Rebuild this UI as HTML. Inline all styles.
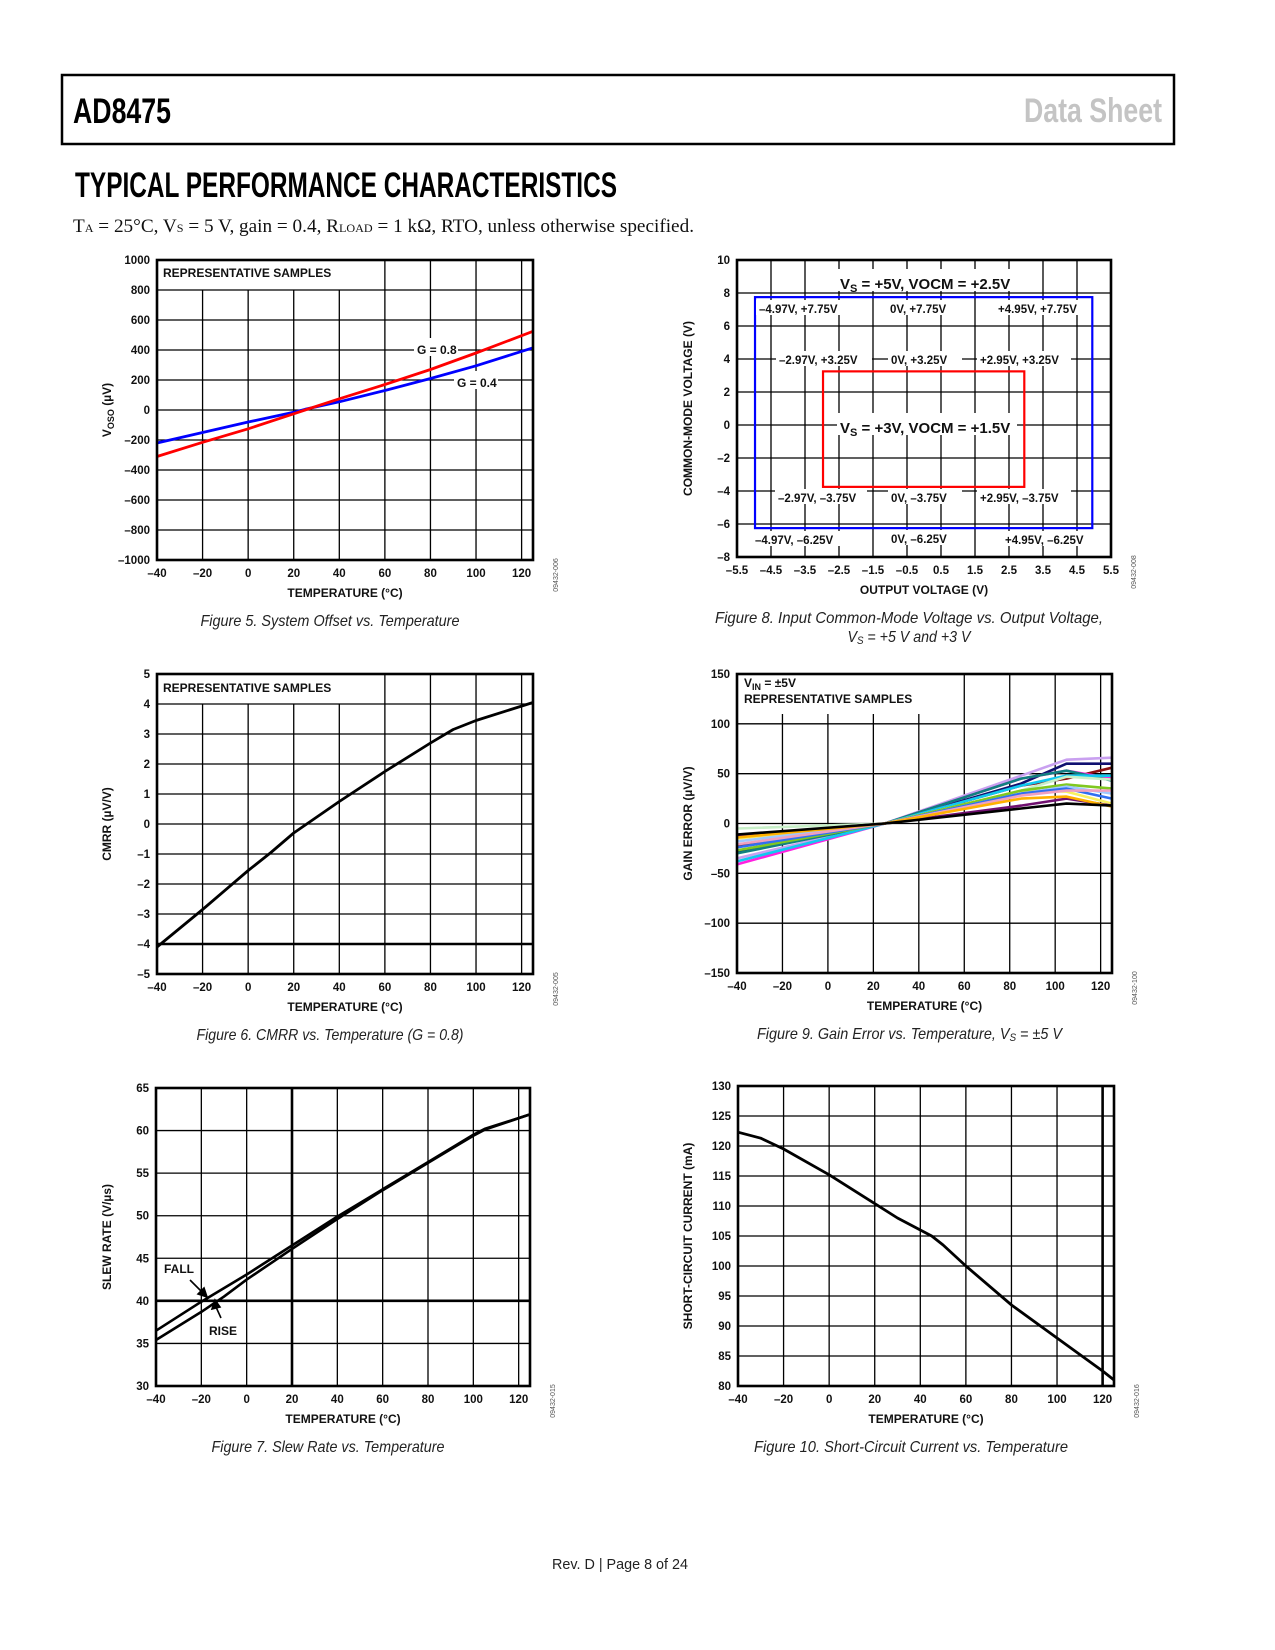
<!DOCTYPE html>
<html><head><meta charset="utf-8"><style>
html,body{margin:0;padding:0;background:#fff}
svg{display:block}
.tk{font-family:"Liberation Sans",Arial,sans-serif;font-size:11.5px;font-weight:bold;fill:#111}
.ax{font-family:"Liberation Sans",Arial,sans-serif;font-size:12px;font-weight:bold;fill:#111}
.cap{font-family:"Liberation Sans Narrow","Liberation Sans",sans-serif;font-style:italic;font-size:16px;fill:#222}
.code{font-family:"Liberation Sans",Arial,sans-serif;font-size:7px;fill:#555}
</style></head><body>
<svg id="page" width="1275" height="1650" viewBox="0 0 1275 1650" xmlns="http://www.w3.org/2000/svg">
<rect x="62" y="75" width="1112" height="69" fill="none" stroke="#000" stroke-width="2.5"/>
<text x="73" y="123" style="font-family:'Liberation Sans Narrow','Liberation Sans',sans-serif;font-weight:bold;font-size:35px" textLength="98" lengthAdjust="spacingAndGlyphs">AD8475</text>
<text x="1162" y="122" text-anchor="end" style="font-family:'Liberation Sans Narrow','Liberation Sans',sans-serif;font-weight:bold;font-size:34px;fill:#c4c4c4" textLength="138" lengthAdjust="spacingAndGlyphs">Data Sheet</text>
<text x="75" y="197" style="font-family:'Liberation Sans Narrow','Liberation Sans',sans-serif;font-weight:bold;font-size:35px" textLength="542" lengthAdjust="spacingAndGlyphs">TYPICAL PERFORMANCE CHARACTERISTICS</text>
<text x="73" y="232" style="font-family:'Liberation Serif',serif;font-size:19px;fill:#111" textLength="621" lengthAdjust="spacingAndGlyphs">T<tspan style="font-size:12px">A</tspan> = 25°C, V<tspan style="font-size:12px">S</tspan> = 5 V, gain = 0.4, R<tspan style="font-size:12px">LOAD</tspan> = 1 kΩ, RTO, unless otherwise specified.</text>
<text x="620" y="1569" text-anchor="middle" style="font-family:'Liberation Sans',sans-serif;font-size:15px;fill:#222" textLength="136" lengthAdjust="spacingAndGlyphs">Rev. D | Page 8 of 24</text>
<g id="charts"></g>
</svg>
<script>
// ---- Figure 5 data
const f5Temps = [-40,-20,0,20,25,40,60,80,100,125];
const f5G08 = [-310,-215,-125,-25,0,75,170,270,380,525];
const f5G04 = [-220,-150,-80,-15,5,55,130,210,295,415];
const f5YTicks = [-1000,-800,-600,-400,-200,0,200,400,600,800,1000];
const tempTicks = [-40,-20,0,20,40,60,80,100,120];
// ---- Figure 6 data
const f6Temps = [-40,-20,0,10,20,40,60,80,90,100,125];
const f6Cmrr = [-4.1,-2.85,-1.55,-0.95,-0.3,0.75,1.75,2.7,3.15,3.45,4.05];
const f6YTicks = [-5,-4,-3,-2,-1,0,1,2,3,4,5];
// ---- Figure 7 data
const f7Temps = [-40,-20,-10,0,20,40,60,80,100,105,125];
const f7Fall = [36.5,39.9,41.5,43.1,46.5,49.9,53.1,56.3,59.5,60.2,61.9];
const f7Rise = [35.4,38.7,40.5,42.5,46.1,49.6,53.0,56.2,59.4,60.1,61.9];
const f7YTicks = [30,35,40,45,50,55,60,65];
// ---- Figure 8 data
const f8XTicks = [-5.5,-4.5,-3.5,-2.5,-1.5,-0.5,0.5,1.5,2.5,3.5,4.5,5.5];
const f8YTicks = [-8,-6,-4,-2,0,2,4,6,8,10];
const f8Blue = [-4.97,7.75,4.95,-6.25];
const f8Red = [-2.97,3.25,2.95,-3.75];
// ---- Figure 9 data
const f9Temps = [-40,25,85,105,125];
const f9Colors = ['#c9a0f0','#101070','#8b1010','#ff20e0','#108080','#10c8f0','#c8f0c8','#f8f060','#80c820','#a0c8ff','#3070f0','#f0a0c0','#701070','#ffb000','#000000'];
const f9S1 = [-35,0,48,64,66];
const f9S2 = [-28,0,40,60,60];
const f9S3 = [-22,0,38,45,56];
const f9S4 = [-41,0,45,53,45];
const f9S5 = [-30,0,45,53,43];
const f9S6 = [-38,0,38,48,48];
const f9S7 = [-5,0,33,47,44];
const f9S8 = [-15,0,33,32,20];
const f9S9 = [-27,0,33,39,35];
const f9S10 = [-18,0,30,37,30];
const f9S11 = [-24,0,30,35,25];
const f9S12 = [-21,0,28,33,33];
const f9S13 = [-12,0,18,25,18];
const f9S14 = [-14,0,25,27,17];
const f9S15 = [-11,0,15,20,18];
const f9Series = [f9S1,f9S2,f9S3,f9S4,f9S5,f9S6,f9S7,f9S8,f9S9,f9S10,f9S11,f9S12,f9S13,f9S14,f9S15];
const f9YTicks = [-150,-100,-50,0,50,100,150];
// ---- Figure 10 data
const f10Temps = [-40,-30,-20,0,20,30,45,50,60,80,100,120,125];
const f10Isc = [122.3,121.3,119.5,115.2,110.4,108,105,103.5,100,93.5,88,82.5,81];
const f10YTicks = [80,85,90,95,100,105,110,115,120,125,130];

const NS='http://www.w3.org/2000/svg';
const root=document.getElementById('charts');
function mk(tag,attrs,parent,txt){const e=document.createElementNS(NS,tag);for(const k in attrs)e.setAttribute(k,attrs[k]);if(txt!==undefined)e.textContent=txt;(parent||root).appendChild(e);return e;}
function scale(d0,d1,r0,r1){return v=>r0+(v-d0)/(d1-d0)*(r1-r0);}
function pathFrom(xs,ys,sx,sy){return xs.map((x,i)=>(i?'L':'M')+sx(x).toFixed(1)+','+sy(ys[i]).toFixed(1)).join(' ');}

function frame(g,box,sx,sy,xt,yt,opt){
  yt.forEach(v=>{const y=sy(v);if(Math.abs(y-box.t)<1||Math.abs(y-box.b)<1)return;
    const l=mk('line',{x1:box.l,x2:box.r,y1:y,y2:y,stroke:'#000','stroke-width':(opt.thickY===v?2.6:1.3)},g);
    });
  xt.forEach(v=>{const x=sx(v);if(Math.abs(x-box.l)<1||Math.abs(x-box.r)<1)return;
    const top=(opt.gridTop&&v<opt.gridTopX)?opt.gridTop:box.t;
    const l=mk('line',{x1:x,x2:x,y1:top,y2:box.b,stroke:'#000','stroke-width':(opt.thickX===v?2.6:1.3)},g);
    });
  yt.forEach(v=>{const t=mk('text',{x:box.l-7,y:sy(v)+4,'text-anchor':'end',class:'tk'},g,String(v).replace('-','\u2013'));
    });
  xt.forEach(v=>{const t=mk('text',{x:sx(v),y:box.b+17,'text-anchor':'middle',class:'tk'},g,String(v).replace('-','\u2013'));
    });
}
function border(g,box){const r=mk('rect',{x:box.l,y:box.t,width:box.r-box.l,height:box.b-box.t,fill:'none',stroke:'#000','stroke-width':2.6},g);
  }
function labels(g,box,xtitle,ytitleNode,cap,capW,code,ytx){
  const xt=mk('text',{x:(box.l+box.r)/2,y:box.b+37,'text-anchor':'middle',class:'ax'},g,xtitle);
  
  const yt=mk('text',{x:0,y:0,'text-anchor':'middle',class:'ax',transform:`translate(${ytx},${(box.t+box.b)/2}) rotate(-90)`},g);
  yt.innerHTML=ytitleNode;
  
  cap.forEach((c,i)=>{const t=mk('text',{x:(box.l+box.r)/2-15,y:box.b+66+i*19,'text-anchor':'middle',class:'cap',textLength:capW[i],lengthAdjust:'spacingAndGlyphs'},g);t.innerHTML=c;
    });
  const cd=mk('text',{x:0,y:0,'text-anchor':'middle',class:'code',transform:`translate(${box.r+25},${box.b+15}) rotate(-90)`},g,code);
  
}
function whiteLabel(g,x,y,w,h,txt,size,name){
  const r=mk('rect',{x:x-3,y:y-h+2,width:w,height:h,fill:'#fff'},g);
  
  const t=mk('text',{x:x,y:y,class:'ax',style:'font-size:'+size+'px'},g);t.innerHTML=txt;
  return t;
}
function line(g,xs,ys,sx,sy,color,w,name){const p=mk('path',{d:pathFrom(xs,ys,sx,sy),fill:'none',stroke:color,'stroke-width':w,'stroke-linejoin':'round'},g);
  return p;}

// ===== Figure 5
(function(){const g=mk('g',{});
 const box={l:157,r:533,t:260,b:560};const sx=scale(-40,125,box.l,box.r),sy=scale(-1000,1000,box.b,box.t);
 frame(g,box,sx,sy,tempTicks,f5YTicks,{gridTop:sy(800),gridTopX:60});
 whiteLabel(g,163,277,180,16,'REPRESENTATIVE SAMPLES',12,'annotation-samples');
 whiteLabel(g,417,354,44,18,'G = 0.8',12,'label-g08');
 whiteLabel(g,457,387,44,18,'G = 0.4',12,'label-g04');
 line(g,f5Temps,f5G04,sx,sy,'#0000ff',2.8,'series-g04');
 line(g,f5Temps,f5G08,sx,sy,'#ff0000',2.8,'series-g08');
 border(g,box);
 labels(g,box,'TEMPERATURE (°C)','V<tspan style="font-size:9px" dy="3">OSO</tspan><tspan dy="-3"> (µV)</tspan>',['Figure 5. System Offset vs. Temperature'],[259],'09432-006',111);
})();
// ===== Figure 6
(function(){const g=mk('g',{});
 const box={l:157,r:533,t:674,b:974};const sx=scale(-40,125,box.l,box.r),sy=scale(-5,5,box.b,box.t);
 frame(g,box,sx,sy,tempTicks,f6YTicks,{gridTop:sy(4),gridTopX:60,thickY:-4});
 whiteLabel(g,163,692,180,16,'REPRESENTATIVE SAMPLES',12,'annotation-samples');
 line(g,f6Temps,f6Cmrr,sx,sy,'#000',2.8,'series-cmrr');
 border(g,box);
 labels(g,box,'TEMPERATURE (°C)','CMRR (µV/V)',['Figure 6. CMRR vs. Temperature (G = 0.8)'],[267],'09432-005',111);
})();
// ===== Figure 7
(function(){const g=mk('g',{});
 const box={l:156,r:530,t:1088,b:1386};const sx=scale(-40,125,box.l,box.r),sy=scale(30,65,box.b,box.t);
 frame(g,box,sx,sy,tempTicks,f7YTicks,{thickX:20,thickY:40});
 line(g,f7Temps,f7Fall,sx,sy,'#000',2.6,'series-fall');
 line(g,f7Temps,f7Rise,sx,sy,'#000',2.6,'series-rise');
 const t1=mk('text',{x:164,y:1273,class:'ax'},g,'FALL');
 const t2=mk('text',{x:209,y:1335,class:'ax'},g,'RISE');
 const a1=mk('path',{d:'M190,1280 L203,1293 M198,1294 L207,1297 L204,1288 Z',stroke:'#000','stroke-width':1.6,fill:'#000'},g);
 const a2=mk('path',{d:'M221,1318 L216,1307 M212,1309 L215,1300 L220,1307 Z',stroke:'#000','stroke-width':1.6,fill:'#000'},g);
 border(g,box);
 labels(g,box,'TEMPERATURE (°C)','SLEW RATE (V/µs)',['Figure 7. Slew Rate vs. Temperature'],[233],'09432-015',111);
})();
// ===== Figure 8
(function(){const g=mk('g',{});
 const box={l:737,r:1111,t:260,b:557};const sx=scale(-5.5,5.5,box.l,box.r),sy=scale(-8,10,box.b,box.t);
 frame(g,box,sx,sy,[],f8YTicks,{});
 f8XTicks.forEach(v=>{const x=sx(v);if(Math.abs(x-box.l)<1||Math.abs(x-box.r)<1)return;const l=mk('line',{x1:x,x2:x,y1:box.t,y2:box.b,stroke:'#000','stroke-width':1.3},g);});
 f8XTicks.forEach(v=>{const t=mk('text',{x:sx(v),y:box.b+17,'text-anchor':'middle',class:'tk'},g,String(v).replace('-','\u2013'));});
 const bl=mk('rect',{x:sx(f8Blue[0]),y:sy(f8Blue[1]),width:sx(f8Blue[2])-sx(f8Blue[0]),height:sy(f8Blue[3])-sy(f8Blue[1]),fill:'none',stroke:'#0000ff','stroke-width':2.2},g);
 const rd=mk('rect',{x:sx(f8Red[0]),y:sy(f8Red[1]),width:sx(f8Red[2])-sx(f8Red[0]),height:sy(f8Red[3])-sy(f8Red[1]),fill:'none',stroke:'#ff0000','stroke-width':2.2},g);
 whiteLabel(g,840,289,180,22,'V<tspan style="font-size:11px" dy="3">S</tspan><tspan dy="-3"> = +5V, VOCM = +2.5V</tspan>',15,'label-vs5');
 whiteLabel(g,840,433,180,22,'V<tspan style="font-size:11px" dy="3">S</tspan><tspan dy="-3"> = +3V, VOCM = +1.5V</tspan>',15,'label-vs3');
 const pts=[[759,313,'\u20134.97V, +7.75V',100],[890,313,'0V, +7.75V',74],[998,313,'+4.95V, +7.75V',92],
  [779,364,'\u20132.97V, +3.25V',96],[891,364,'0V, +3.25V',74],[980,364,'+2.95V, +3.25V',94],
  [778,502,'\u20132.97V, \u20133.75V',92],[891,502,'0V, \u20133.75V',74],[980,502,'+2.95V, \u20133.75V',94],
  [755,544,'\u20134.97V, \u20136.25V',90],[891,543,'0V, \u20136.25V',74],[1005,544,'+4.95V, \u20136.25V',86]];
 pts.forEach(p=>whiteLabel(g,p[0],p[1],p[3],15,p[2],11.5,'corner-label'));
 border(g,box);
 labels(g,box,'OUTPUT VOLTAGE (V)','COMMON-MODE VOLTAGE (V)',['Figure 8. Input Common-Mode Voltage vs. Output Voltage,','V<tspan style="font-size:11px" dy="2">S</tspan><tspan dy="-2"> = +5 V and +3 V</tspan>'],[388,123],'09432-008',692);
})();
// ===== Figure 9
(function(){const g=mk('g',{});
 const box={l:737,r:1112,t:674,b:973};const sx=scale(-40,125,box.l,box.r),sy=scale(-150,150,box.b,box.t);
 frame(g,box,sx,sy,tempTicks,f9YTicks,{gridTop:sy(112),gridTopX:50});
 const r=mk('rect',{x:742,y:678,width:200,height:36,fill:'#fff'},g);
 const t1=mk('text',{x:744,y:687,class:'ax'},g);t1.innerHTML='V<tspan style="font-size:9px" dy="3">IN</tspan><tspan dy="-3"> = ±5V</tspan>';
 const t2=mk('text',{x:744,y:703,class:'ax'},g,'REPRESENTATIVE SAMPLES');
 f9Series.forEach((s,i)=>line(g,f9Temps,s,sx,sy,f9Colors[i],2.6,'gain-error-sample'));
 border(g,box);
 labels(g,box,'TEMPERATURE (°C)','GAIN ERROR (µV/V)',['Figure 9. Gain Error vs. Temperature, V<tspan style="font-size:11px" dy="2">S</tspan><tspan dy="-2"> = ±5 V</tspan>'],[305],'09432-100',692);
})();
// ===== Figure 10
(function(){const g=mk('g',{});
 const box={l:738,r:1114,t:1086,b:1386};const sx=scale(-40,125,box.l,box.r),sy=scale(80,130,box.b,box.t);
 frame(g,box,sx,sy,tempTicks,f10YTicks,{thickX:120});
 line(g,f10Temps,f10Isc,sx,sy,'#000',2.8,'series-isc');
 border(g,box);
 labels(g,box,'TEMPERATURE (°C)','SHORT-CIRCUIT CURRENT (mA)',['Figure 10. Short-Circuit Current vs. Temperature'],[314],'09432-016',692);
})();
</script>
</body></html>
